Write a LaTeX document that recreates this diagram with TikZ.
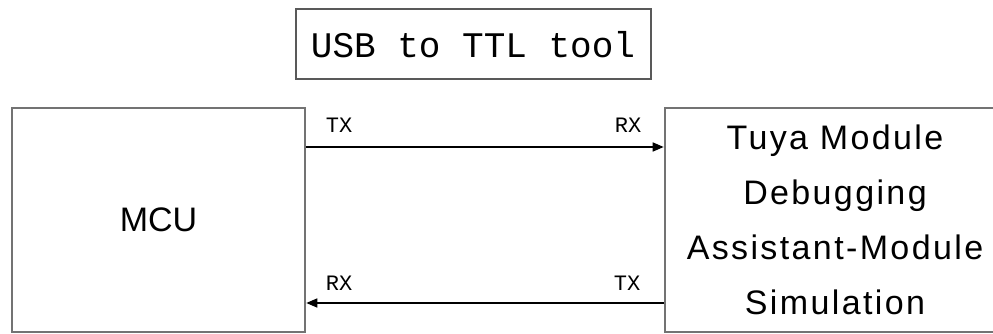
\documentclass[tikz,border=0pt]{standalone}
\usepackage{fontspec}
\setmainfont{Liberation Sans}
\newfontfamily\monofont{Liberation Mono}
\newfontfamily\widefont[LetterSpace=7]{Liberation Sans}
\usetikzlibrary{arrows.meta}
\begin{document}
\begin{tikzpicture}[x=1pt,y=-1pt,
  blockbox/.style={draw=black!55,line width=2.6pt,inner sep=0pt,align=center},
  toolbox/.style={draw=black!65,line width=2pt,inner sep=0pt},
  sig/.style={draw=black,line width=1.6pt,-{Triangle[length=11pt,width=9pt]}},
  pin/.style={font=\monofont\fontsize{22}{22}\selectfont,inner sep=0pt}]
\useasboundingbox (0,0) rectangle (993,334);
\clip (0,0) rectangle (993,334);
\fill[white] (0,0) rectangle (993,334);
\node[toolbox,minimum width=355pt,minimum height=70pt,font=\monofont\fontsize{36}{36}\selectfont] (usb) at (473,44.5) {USB to TTL tool};
\node[blockbox,minimum width=293pt,minimum height=224pt,font=\fontsize{34}{34}\selectfont] (mcu) at (158.5,220) {MCU};
\node[blockbox,minimum width=340pt,minimum height=224pt,font=\widefont\fontsize{34}{55}\selectfont] (tuya) at (835,220) {Tuya Module\\Debugging\\Assistant-Module\\Simulation};
\coordinate (up) at (0,147);
\coordinate (down) at (0,303);
\draw[sig] (mcu.east |- up) -- (tuya.west |- up);
\draw[sig] (tuya.west |- down) -- (mcu.east |- down);
\node[pin] (tx1) at (339,125) {TX};
\node[pin] (rx1) at (628,125) {RX};
\node[pin] (rx2) at (339,283) {RX};
\node[pin] (tx2) at (627,283) {TX};
\end{tikzpicture}
\end{document}
